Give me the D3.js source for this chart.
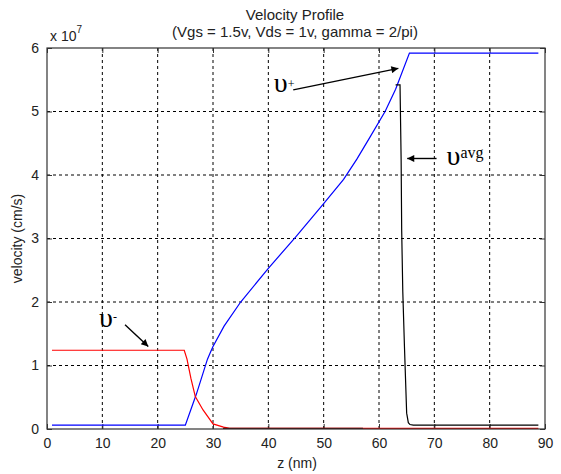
<!DOCTYPE html>
<html>
<head>
<meta charset="utf-8">
<script src="https://cdn.jsdelivr.net/npm/d3@7"></script>
<style>
  body { margin: 0; background: #fff; }
  text { font-family: "Liberation Sans", Arial, sans-serif; fill: #222; }
  .greek { font-family: "Liberation Serif", "Times New Roman", serif; fill: #000; }
</style>
</head>
<body>
<svg id="chart" width="561" height="474"></svg>
<script>
// v+ (blue)
var zPlus = [0.9, 25, 27, 29, 29.5, 30, 32, 35, 40, 45, 50, 53.6, 56, 58.4, 61.1, 63, 65.5, 88.8]
var vPlus = [0.06, 0.06, 0.55, 1.1, 1.2, 1.3, 1.62, 2.0, 2.53, 3.03, 3.55, 3.93, 4.25, 4.6, 5.0, 5.35, 5.92, 5.92]
// v- (red)
var zMinus = [0.9, 24.8, 25.3, 26, 26.8, 28.2, 30, 31.9, 33, 88.8]
var vMinus = [1.24, 1.24, 1.1, 0.8, 0.51, 0.3, 0.08, 0.03, 0.01, 0.01]
// v avg (black)
var zAvg = [63.0, 63.8, 64.0, 64.1, 64.3, 64.6, 65.0, 65.3, 65.6, 66.2, 88.8]
var vAvg = [5.42, 5.42, 4.24, 3.13, 2.16, 1.30, 0.25, 0.1, 0.07, 0.06, 0.06]
var zAvgLow = [31.8, 57.1]
var vAvgLow = [0.01, 0.01]

var xTicks = [0, 10, 20, 30, 40, 50, 60, 70, 80, 90]
var yTicks = [0, 1, 2, 3, 4, 5, 6]

var svg = d3.select('#chart')
var m = {left: 47, right: 16, top: 48, bottom: 45}
var W = 561 - m.left - m.right
var H = 474 - m.top - m.bottom

var x = d3.scaleLinear().domain([0, 90]).range([m.left, m.left + W])
var y = d3.scaleLinear().domain([0, 6]).range([m.top + H, m.top])

// grid
svg.append('g').selectAll('line').data(xTicks.slice(1, -1)).enter().append('line')
  .attr('x1', function (d) { return x(d) }).attr('x2', function (d) { return x(d) })
  .attr('y1', y(0)).attr('y2', y(6))
  .attr('stroke', '#000').attr('stroke-width', 1).attr('stroke-dasharray', '3,3')
svg.append('g').selectAll('line').data(yTicks.slice(1, -1)).enter().append('line')
  .attr('y1', function (d) { return y(d) }).attr('y2', function (d) { return y(d) })
  .attr('x1', x(0)).attr('x2', x(90))
  .attr('stroke', '#000').attr('stroke-width', 1).attr('stroke-dasharray', '3,3')

// axes
var xAxis = svg.append('g').attr('transform', 'translate(0,' + y(0) + ')')
  .call(d3.axisBottom(x).tickValues(xTicks).tickSize(-5).tickPadding(9).tickFormat(d3.format('d')))
var xTop = svg.append('g').attr('transform', 'translate(0,' + y(6) + ')')
  .call(d3.axisTop(x).tickValues(xTicks).tickSize(-5).tickFormat(''))
var yAxis = svg.append('g').attr('transform', 'translate(' + x(0) + ',0)')
  .call(d3.axisLeft(y).tickValues(yTicks).tickSize(-5).tickPadding(8).tickFormat(d3.format('d')))
var yRight = svg.append('g').attr('transform', 'translate(' + x(90) + ',0)')
  .call(d3.axisRight(y).tickValues(yTicks).tickSize(-5).tickFormat(''))
;[xAxis, xTop, yAxis, yRight].forEach(function (g) {
  g.select('.domain').remove()
  g.selectAll('line').attr('stroke', '#333')
  g.selectAll('text').style('font-size', '14px').attr('fill', '#222')
})

var line = d3.line()
  .x(function (d) { return x(d[0]) })
  .y(function (d) { return y(d[1]) })

function pairs (zs, vs) {
  return zs.map(function (z, i) { return [z, vs[i]] })
}

svg.append('path').datum(pairs(zPlus, vPlus)).attr('d', line)
  .attr('fill', 'none').attr('stroke', '#0000ff').attr('stroke-width', 1.2)
svg.append('path').datum(pairs(zMinus, vMinus)).attr('d', line)
  .attr('fill', 'none').attr('stroke', '#ff0000').attr('stroke-width', 1.2)
svg.append('path').datum(pairs(zAvgLow, vAvgLow)).attr('d', line)
  .attr('fill', 'none').attr('stroke', '#500000').attr('stroke-width', 1.2)
svg.append('path').datum(pairs(zAvg, vAvg)).attr('d', line)
  .attr('fill', 'none').attr('stroke', '#000').attr('stroke-width', 1.2)

// frame
svg.append('rect').attr('x', x(0)).attr('y', y(6)).attr('width', W).attr('height', H)
  .attr('fill', 'none').attr('stroke', '#333').attr('stroke-width', 1.2)

// titles
svg.append('text').attr('x', 295).attr('y', 20).attr('text-anchor', 'middle')
  .style('font-size', '15px').text('Velocity Profile')
svg.append('text').attr('x', 295).attr('y', 37).attr('text-anchor', 'middle')
  .style('font-size', '15px').text('(Vgs = 1.5v, Vds = 1v, gamma = 2/pi)')
var sci = svg.append('text').attr('x', 50).attr('y', 41).style('font-size', '14px')
sci.append('tspan').text('x 10')
sci.append('tspan').attr('dy', -8).style('font-size', '10px').text('7')
svg.append('text').attr('x', 297).attr('y', 468).attr('text-anchor', 'middle')
  .style('font-size', '14px').text('z (nm)')
svg.append('text').attr('transform', 'translate(22,' + (m.top + H / 2) + ') rotate(-90)')
  .attr('text-anchor', 'middle').style('font-size', '14px').text('velocity (cm/s)')

// annotations
svg.append('defs').append('marker').attr('id', 'arr')
  .attr('viewBox', '0 0 10 10').attr('refX', 10).attr('refY', 5)
  .attr('markerWidth', 10).attr('markerHeight', 7).attr('markerUnits', 'userSpaceOnUse')
  .attr('orient', 'auto')
  .append('path').attr('d', 'M0,0 L10,5 L0,10 Z').attr('fill', '#000')

var arrows = [
  {from: [44.5, 5.34], to: [63.5, 5.68]},
  {from: [70.4, 4.26], to: [65.1, 4.26]},
  {from: [14.1, 1.64], to: [18.3, 1.30]}
]
svg.append('g').selectAll('line').data(arrows).enter().append('line')
  .attr('x1', function (d) { return x(d.from[0]) }).attr('y1', function (d) { return y(d.from[1]) })
  .attr('x2', function (d) { return x(d.to[0]) }).attr('y2', function (d) { return y(d.to[1]) })
  .attr('stroke', '#000').attr('stroke-width', 1.4).attr('marker-end', 'url(#arr)')

var labels = [
  {z: 41.0, v: 5.30, sup: '+', dy: -4},
  {z: 72.2, v: 4.16, sup: 'avg', dy: -7},
  {z: 9.4, v: 1.61, sup: '-', dy: -6}
]
labels.forEach(function (d) {
  var t = svg.append('text').attr('class', 'greek')
    .attr('x', x(d.z)).attr('y', y(d.v)).style('font-size', '28px')
  t.append('tspan').text('υ')
  t.append('tspan').attr('dy', d.dy).style('font-size', d.sup === 'avg' ? '16px' : '12px').text(d.sup)
})
</script>
</body>
</html>
